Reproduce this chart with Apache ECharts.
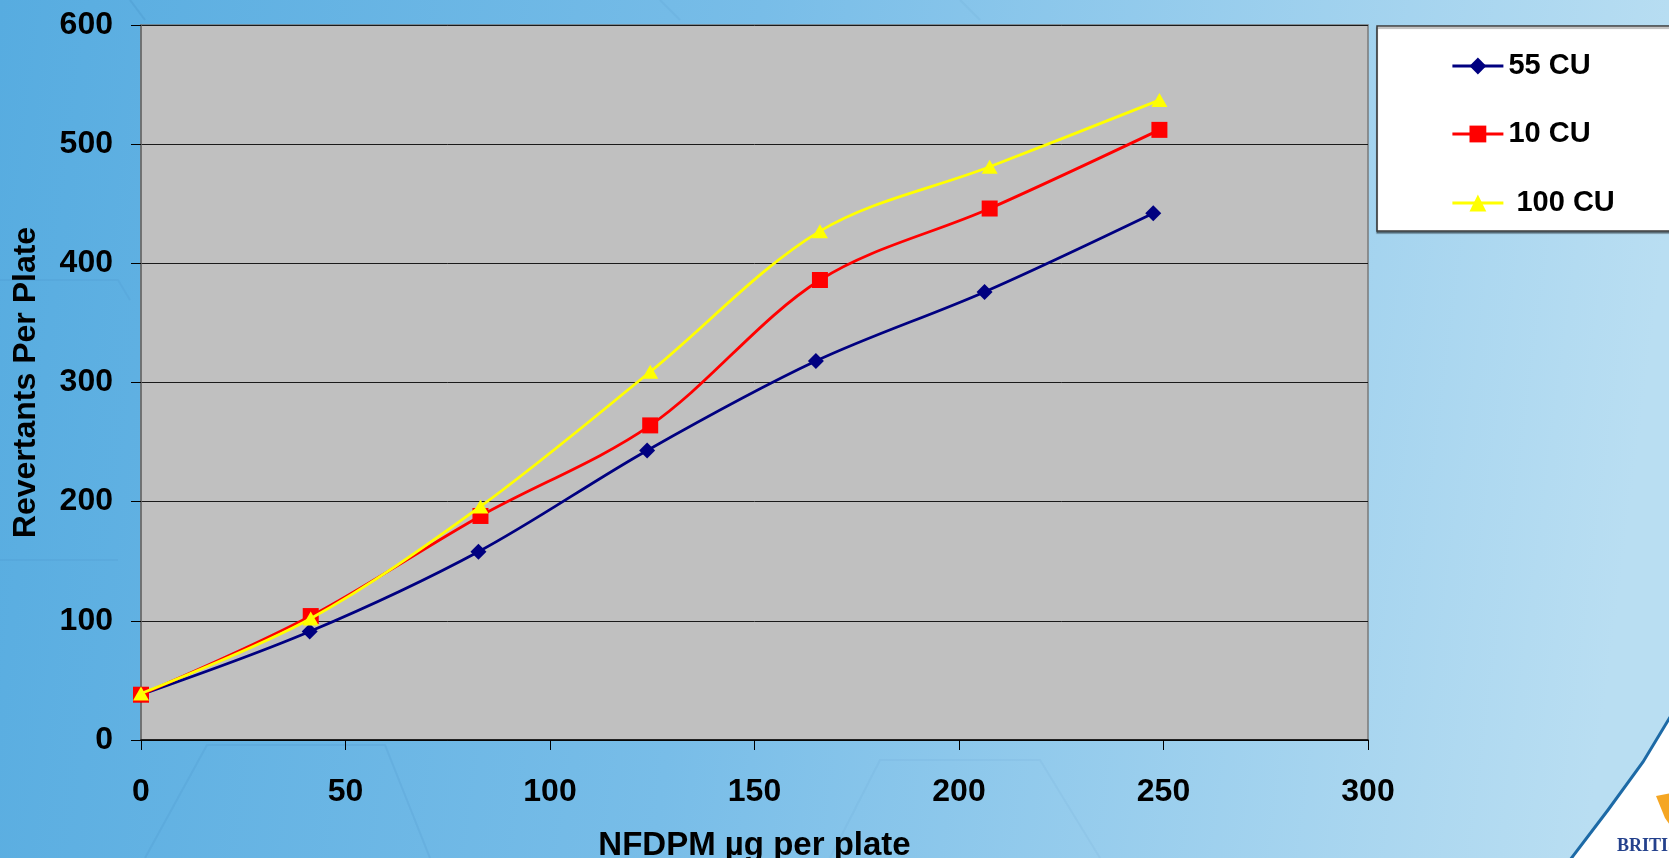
<!DOCTYPE html>
<html>
<head>
<meta charset="utf-8">
<title>Revertants Per Plate vs NFDPM</title>
<script src="https://cdn.jsdelivr.net/npm/echarts@6/dist/echarts.min.js"></script>
<style>
  html, body { margin: 0; padding: 0; width: 1669px; height: 858px; overflow: hidden; }
  #chart { width: 1669px; height: 858px; }
</style>
</head>
<body>
<div id="chart"></div>
<script>
// Dose (µg NFDPM per plate) for each condensate series
const dose55 = [0, 41.25, 82.5, 123.75, 165, 206.25, 247.5];
const dose10 = [0, 41.5, 83, 124.5, 166, 207.5, 249];
const dose100 = [0, 41.5, 83, 124.5, 166, 207.5, 249];

// Revertants per plate
const rev55 = [38, 91, 158, 243, 318, 376, 442];
const rev10 = [38, 104, 188, 264, 386, 446, 512];
const rev100 = [39, 102, 196, 309, 427, 481, 537];

const seriesNames = ['55 CU', '10 CU', '100 CU'];

const xTicks = [0, 50, 100, 150, 200, 250, 300];
const yTicks = [0, 100, 200, 300, 400, 500, 600];

const FONT = '"Liberation Sans", Arial, sans-serif';

function pairs(xs, ys) {
  return xs.map((x, i) => [x, ys[i]]);
}

const chart = echarts.init(document.getElementById('chart'));

const legendCenters = [62, 130, 199];
const legendItemH = 21;

function hexLine(points, alpha) {
  return {
    type: 'polyline', silent: true, z: -10,
    shape: { points: points },
    style: { stroke: 'rgba(30,90,150,' + alpha + ')', lineWidth: 2, fill: null }
  };
}

const option = {
  animation: false,
  backgroundColor: {
    type: 'linear', x: 0, y: 0, x2: 1, y2: 0.25,
    colorStops: [
      { offset: 0, color: '#57ace0' },
      { offset: 0.45, color: '#78bde8' },
      { offset: 1, color: '#b9def2' }
    ]
  },
  graphic: [
    // faint honeycomb texture in the backdrop
    hexLine([[130, 0], [145, 20]], 0.10),
    hexLine([[145, 858], [207, 745], [385, 745], [430, 858]], 0.08),
    hexLine([[0, 280], [118, 280], [130, 300]], 0.06),
    hexLine([[0, 560], [118, 560]], 0.06),
    hexLine([[660, 0], [680, 20]], 0.06),
    hexLine([[960, 0], [980, 20]], 0.05),
    hexLine([[830, 858], [880, 760], [1040, 760], [1100, 858]], 0.05),
    // legend frame
    {
      type: 'rect', silent: true, z: 1,
      shape: { x: 1377, y: 26, width: 320, height: 205 },
      style: { fill: '#ffffff', stroke: '#3a3a3a', lineWidth: 1.5,
               shadowColor: 'rgba(0,0,0,0.35)', shadowOffsetY: 2, shadowBlur: 1 }
    },
    // corner emblem
    {
      type: 'polygon', silent: true, z: 1,
      shape: { points: [[1672, 714], [1643, 762], [1608, 810], [1570, 860], [1672, 860]] },
      style: { fill: '#ffffff', stroke: '#1d6aa6', lineWidth: 3 }
    },
    {
      type: 'polygon', silent: true, z: 2,
      shape: { points: [[1656, 796], [1672, 793], [1672, 828], [1665, 818]] },
      style: { fill: '#f5a623' }
    },
    {
      type: 'text', silent: true, z: 2,
      style: { x: 1617, y: 837, text: 'BRITISH', fill: '#24418c',
               font: 'bold 18px "Liberation Serif", "DejaVu Serif", serif' }
    }
  ],
  legend: seriesNames.map((name, i) => ({
    data: [name],
    left: 1451,
    top: legendCenters[i] - legendItemH / 2,
    padding: 0,
    itemWidth: 51,
    itemHeight: legendItemH,
    selectedMode: false,
    z: 5,
    lineStyle: { width: 2.8 },
    formatter: n => (n === '100 CU' ? ' ' + n : n),
    textStyle: { color: '#000', fontSize: 29, fontWeight: 'bold', fontFamily: FONT }
  })),
  grid: {
    left: 141, right: 301, top: 25, bottom: 118,
    outerBoundsMode: 'none',
    containLabel: false,
    show: true,
    backgroundColor: '#c0c0c0',
    borderColor: '#7a7a7a',
    borderWidth: 1.5
  },
  xAxis: {
    type: 'value',
    min: 0, max: 300, interval: 50,
    name: 'NFDPM µg per plate',
    nameLocation: 'middle',
    nameGap: 89,
    nameTextStyle: { color: '#000', fontSize: 33, fontWeight: 'bold', fontFamily: FONT },
    axisLine: { show: true, lineStyle: { color: '#000', width: 1.5 } },
    axisTick: { show: true, inside: false, length: 10, lineStyle: { color: '#000', width: 1 } },
    axisLabel: {
      margin: 36, color: '#000', fontSize: 32, fontWeight: 'bold', fontFamily: FONT,
      customValues: xTicks
    },
    splitLine: { show: false }
  },
  yAxis: {
    type: 'value',
    min: 0, max: 600, interval: 100,
    name: 'Revertants Per Plate',
    nameLocation: 'middle',
    nameGap: 99,
    nameTextStyle: { color: '#000', fontSize: 32, fontWeight: 'bold', fontFamily: FONT },
    axisLine: { show: true, lineStyle: { color: '#6a6a6a', width: 1.5 } },
    axisTick: { show: true, inside: false, length: 10, lineStyle: { color: '#000', width: 1 } },
    axisLabel: {
      margin: 28, color: '#000', fontSize: 32, fontWeight: 'bold', fontFamily: FONT,
      customValues: yTicks
    },
    splitLine: { show: true, lineStyle: { color: '#1a1a1a', width: 1 } }
  },
  series: [
    {
      name: seriesNames[0], type: 'line', smooth: 0.33,
      data: pairs(dose55, rev55),
      symbol: 'diamond', symbolSize: 16,
      lineStyle: { color: '#000080', width: 2.8 },
      itemStyle: { color: '#000080' },
      z: 3
    },
    {
      name: seriesNames[1], type: 'line', smooth: 0.33,
      data: pairs(dose10, rev10),
      symbol: 'rect', symbolSize: 16,
      lineStyle: { color: '#ff0000', width: 2.8 },
      itemStyle: { color: '#ff0000' },
      z: 4
    },
    {
      name: seriesNames[2], type: 'line', smooth: 0.33,
      data: pairs(dose100, rev100),
      symbol: 'triangle', symbolSize: [16, 14],
      lineStyle: { color: '#ffff00', width: 2.8 },
      itemStyle: { color: '#ffff00' },
      z: 5
    }
  ]
};

chart.setOption(option);
</script>
</body>
</html>
